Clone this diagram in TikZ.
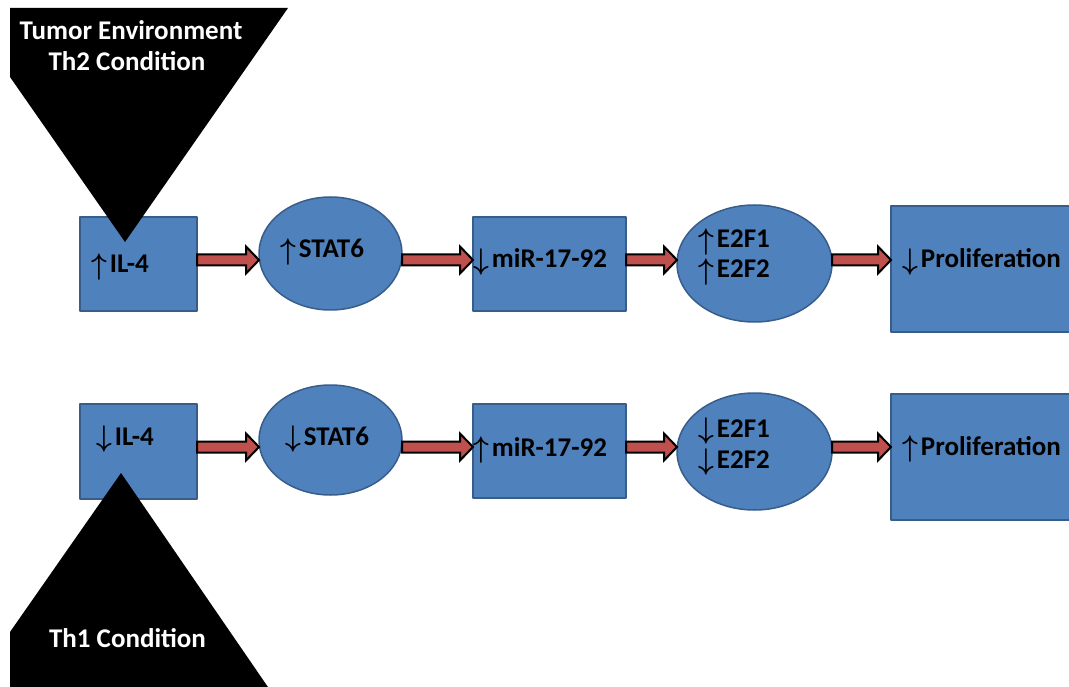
\documentclass[tikz,border=0pt]{standalone}
\usepackage{fontspec}
\setmainfont{Carlito}
\usetikzlibrary{shapes.geometric,calc}
\definecolor{boxblue}{HTML}{4F81BD}
\definecolor{boxedge}{HTML}{385D8A}
\definecolor{arrowred}{HTML}{C0504D}
\newcommand\up{\raisebox{-1.5pt}{\scalebox{1.1}[1.2]{\boldmath$\uparrow$}}\kern3pt}
\newcommand\down{\raisebox{-1.5pt}{\scalebox{1.1}[1.2]{\boldmath$\downarrow$}}\kern3pt}

% block arrow from the east side of #1 to the west side of #2, at the height of #3
\newcommand\flowarrow[3]{%
  \path[flowarrow] let \p1=(#1.east), \p2=(#2.west), \p3=(#3) in
    (\x1,{\y3+5.5pt}) -- ({\x2-13pt},{\y3+5.5pt}) -- ({\x2-13pt},{\y3+13.5pt})
    -- (\x2,\y3) -- ({\x2-13pt},{\y3-13.5pt}) -- ({\x2-13pt},{\y3-5.5pt})
    -- (\x1,{\y3-5.5pt}) -- cycle;}

\begin{document}
\begin{tikzpicture}[x=1pt, y=-1pt, line join=round, font=\fontsize{27}{31}\selectfont\bfseries]
	\tikzset{stepbox/.style={rectangle, draw=boxedge, fill=boxblue, line width=2pt, inner sep=0pt, outer sep=0pt},
		stepoval/.style={ellipse, draw=boxedge, fill=boxblue, line width=1.5pt, inner sep=0pt, outer sep=0pt},
		flowarrow/.style={draw=black, fill=arrowred, line width=2pt, line join=miter},
		steptext/.style={anchor=base west, inner sep=0pt},
		condtext/.style={anchor=base, text=white, inner sep=0pt}}
	\clip (0,0) rectangle (1069,687);
	\coordinate (rowT) at (0,260);
	\coordinate (rowB) at (0,447);
	% Th2 row
	\node[stepbox, minimum width=117pt, minimum height=94pt] (il4T) at (138.5,264) {};
	\node[stepoval, minimum width=143pt, minimum height=113pt] (stat6T) at (330.5,253.5) {};
	\node[stepbox, minimum width=153pt, minimum height=94pt] (mirT) at (549.5,264) {};
	\node[stepoval, minimum width=155pt, minimum height=117pt] (e2fT) at (754.5,263.5) {};
	\node[stepbox, minimum width=200pt, minimum height=126pt] (prolT) at (991,269) {};
	% Th1 row
	\node[stepbox, minimum width=117pt, minimum height=95pt] (il4B) at (138.5,451.5) {};
	\node[stepoval, minimum width=143pt, minimum height=110pt] (stat6B) at (330.5,440) {};
	\node[stepbox, minimum width=153pt, minimum height=94pt] (mirB) at (549.5,451) {};
	\node[stepoval, minimum width=155pt, minimum height=117pt] (e2fB) at (754.5,451.5) {};
	\node[stepbox, minimum width=200pt, minimum height=126pt] (prolB) at (991,457) {};
	\foreach \a/\b/\r in {il4T/stat6T/rowT, stat6T/mirT/rowT, mirT/e2fT/rowT, e2fT/prolT/rowT,
		il4B/stat6B/rowB, stat6B/mirB/rowB, mirB/e2fB/rowB, e2fB/prolB/rowB}
	\flowarrow{\a}{\b}{\r};
	% conditions
	\fill (10,8) -- (288,8) -- (125,242) -- (10,77) -- cycle;
	\fill (10,690) -- (270,690) -- (121,473) -- (10,632) -- cycle;
	\node[condtext] (th2a) at (131,40) {Tumor Environment};
	\node[condtext] (th2b) at (127,71) {Th2 Condition};
	\node[condtext] (th1) at (127.5,647) {Th1 Condition};
	% labels
	\node[steptext] (il4Tx) at (91,273) {\up IL-4};
	\node[steptext] (stat6Tx) at (280,258) {\up STAT6};
	\node[steptext] (mirTx) at (473,268) {\down miR-17-92};
	\node[steptext] (e2fTa) at (698,248) {\up E2F1};
	\node[steptext] (e2fTb) at (698,278) {\up E2F2};
	\node[steptext] (prolTx) at (902,268) {\down Proliferation};
	\node[steptext] (il4Bx) at (96,445) {\down IL-4};
	\node[steptext] (stat6Bx) at (285,445) {\down STAT6};
	\node[steptext] (mirBx) at (473,456) {\up miR-17-92};
	\node[steptext] (e2fBa) at (698,437) {\down E2F1};
	\node[steptext] (e2fBb) at (698,468) {\down E2F2};
	\node[steptext] (prolBx) at (902,455) {\up Proliferation};
\end{tikzpicture}
\end{document}
